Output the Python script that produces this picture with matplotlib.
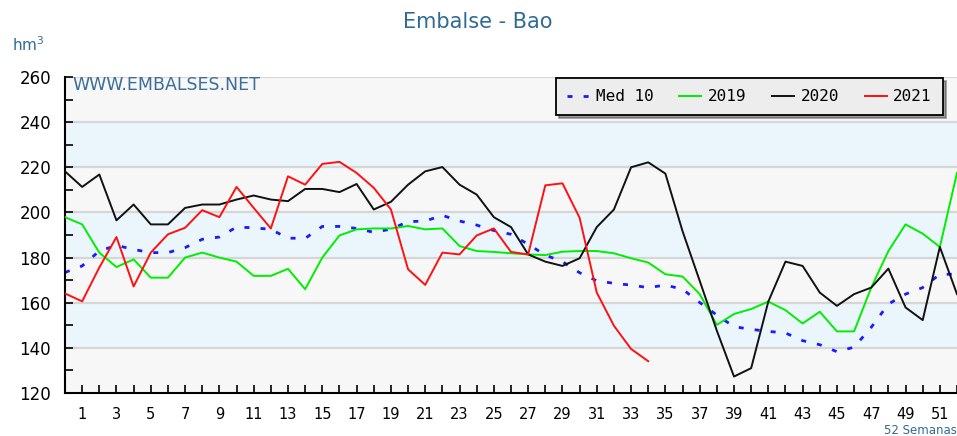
import matplotlib
matplotlib.use("Agg")
import matplotlib.pyplot as plt
from matplotlib.ticker import MultipleLocator, FixedLocator
import numpy as np

weeks = list(range(0, 53))

med10 = [173.4, 176.3, 182.9, 185.4, 183.6, 182.2, 182.2, 184.4, 188.1, 189.1,
         193.5, 193.2, 192.5, 188.6, 188.5, 193.8, 193.8, 192.9, 191.2, 192.6,
         195.9, 196.2, 198.7, 196.2, 194.4, 192.0, 190.3, 185.9, 181.1, 178.2,
         173.3, 169.7, 168.6, 167.8, 166.7, 167.8, 166.0, 160.1, 154.5, 149.4,
         148.2, 147.3, 146.6, 143.2, 141.4, 138.3, 140.3, 149.1, 159.4, 163.8,
         166.7, 172.6, 172.6]

y2019 = [197.9, 194.7, 182.2, 175.8, 179.2, 171.1, 171.1, 180.0, 182.2, 180.0,
         178.2, 171.9, 171.9, 175.0, 166.0, 180.0, 189.8, 192.5, 192.9, 192.9,
         194.0, 192.5, 192.9, 185.1, 182.9, 182.5, 181.9, 181.4, 181.1, 182.6,
         182.9, 182.9, 181.9, 179.7, 177.8, 172.6, 171.6, 163.8, 150.2, 155.0,
         157.2, 160.5, 156.7, 150.8, 156.0, 147.3, 147.3, 166.7, 182.9, 194.7,
         190.6, 184.7, 217.5]

y2020 = [218.2, 211.3, 216.8, 196.5, 203.5, 194.7, 194.7, 202.0, 203.5, 203.5,
         205.7, 207.5, 205.7, 205.0, 210.4, 210.4, 209.0, 212.6, 201.3, 204.7,
         212.3, 218.2, 220.1, 212.3, 207.9, 197.9, 193.5, 181.4, 178.2, 176.3,
         179.7, 193.5, 201.3, 220.0, 222.2, 217.2, 191.7, 169.7, 147.6, 127.3,
         131.0, 160.5, 178.2, 176.3, 164.5, 158.6, 163.8, 166.7, 175.1, 157.9,
         152.3, 184.7, 163.8]

y2021 = [164.1, 160.6, 175.6, 189.1, 167.2, 182.2, 190.3, 193.2, 201.0, 197.9,
         211.3, 202.0, 192.9, 216.0, 212.3, 221.5, 222.4, 217.5, 210.9, 201.3,
         174.8, 167.9, 182.2, 181.4, 189.8, 192.9, 182.5, 181.4, 212.0, 212.9,
         197.6, 164.5, 149.8, 139.5, 134.1]

yticks = [120, 140, 160, 180, 200, 220, 240, 260]
xlabels = list(range(1, 52, 2))

W, H = 957, 436
fig = plt.figure(figsize=(W / 100, H / 100), dpi=100)
ax = fig.add_axes([65 / W, (H - 393) / H, (957 - 65) / W, (393 - 77) / H])

ax.set_xlim(0, 52)
ax.set_ylim(120, 260)

# background bands
for i, lo in enumerate(range(120, 260, 20)):
    col = '#f7f7f7' if i % 2 == 0 else '#eaf5fc'
    ax.axhspan(lo, lo + 20, color=col, zorder=0, lw=0)
for v in yticks[1:]:
    ax.axhline(v, color='#d6d6d6', lw=1.6, zorder=1)

ax.plot(weeks[:len(y2019)], y2019, color='#00ee00', lw=1.4, zorder=3, label='2019')
ax.plot(weeks[:len(y2020)], y2020, color='#111111', lw=1.4, zorder=4, label='2020')
ax.plot(weeks[:len(y2021)], y2021, color='#ff1111', lw=1.4, zorder=5, label='2021')
ax.plot(weeks[:len(med10)], med10, color='#1a1aff', lw=2.0, ls=(0, (1.8, 4.0)),
        zorder=2, label='Med 10')

for s in ['top', 'right']:
    ax.spines[s].set_visible(False)
ax.spines['left'].set_linewidth(1.5)
ax.spines['bottom'].set_linewidth(1.5)

ax.xaxis.set_major_locator(FixedLocator(xlabels))
ax.xaxis.set_minor_locator(FixedLocator(list(range(2, 53, 2))))
ax.set_xticklabels([str(v) for v in xlabels])
ax.yaxis.set_major_locator(FixedLocator(yticks))
ax.yaxis.set_minor_locator(MultipleLocator(10))
ax.tick_params(axis='both', which='both', direction='in', length=6, width=1.2,
               colors='black')
ax.tick_params(axis='x', which='major', labelsize=10.5, pad=10)
ax.tick_params(axis='y', which='major', labelsize=12, pad=10)

handles, labels = ax.get_legend_handles_labels()
order = [3, 0, 1, 2]
leg = ax.legend([handles[i] for i in order], [labels[i] for i in order],
                loc='upper right', ncol=4, frameon=True, fancybox=False, shadow=True,
                prop={'family': 'DejaVu Sans Mono', 'size': 11.5},
                handlelength=1.4, handletextpad=0.4, columnspacing=1.6,
                borderpad=0.7, borderaxespad=0.0, edgecolor='black',
                facecolor='#ededed', framealpha=1)
leg.set_bbox_to_anchor((943 / W, (H - 78) / H), transform=fig.transFigure)
leg.get_frame().set_linewidth(1.3)

fig.text(478 / W, 1 - 22 / H, 'Embalse - Bao', ha='center', va='center',
         fontsize=15, color='#2f6b96')
fig.text(12 / W, 1 - 45 / H, 'hm$^3$', ha='left', va='center', fontsize=11,
         color='#2f6b96')
ax.text(72 / W, 1 - 85 / H, 'WWW.EMBALSES.NET', transform=fig.transFigure,
        ha='left', va='center', fontsize=12.5, color='#3a6e99', zorder=6)
fig.text(957 / W, 1 - 430 / H, '52 Semanas', ha='right', va='center',
         fontsize=8.5, color='#2f6b96')

fig.savefig('out.png', dpi=100)
